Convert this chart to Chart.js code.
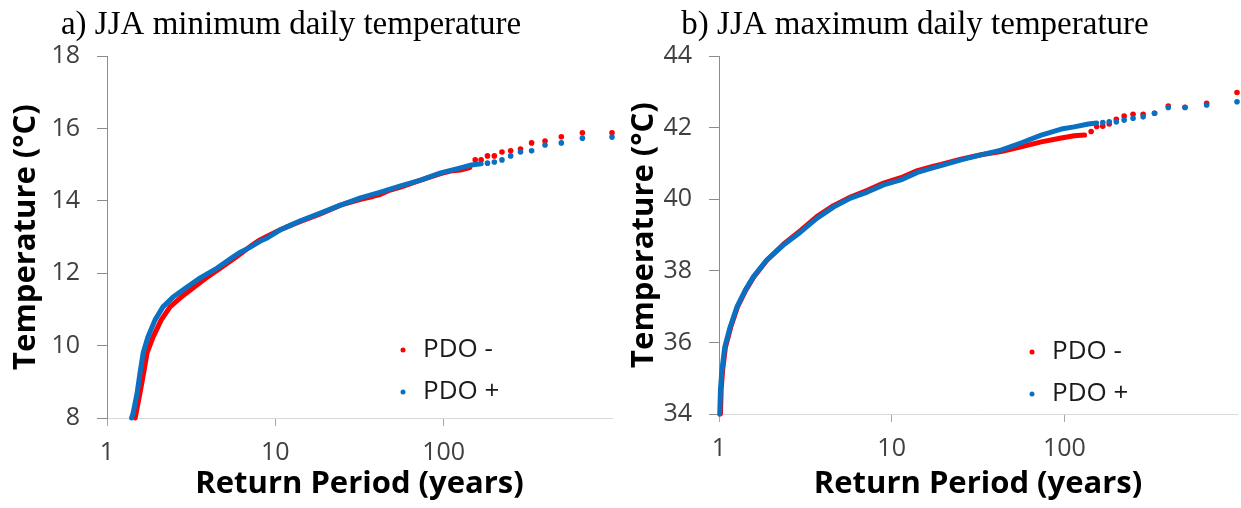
<!DOCTYPE html>
<html>
<head>
<meta charset="utf-8">
<script src="https://cdn.jsdelivr.net/npm/chart.js@4.4.0/dist/chart.umd.min.js"></script>
<style>
  html, body { margin: 0; padding: 0; background: #fff; }
  #wrap { position: relative; width: 1241px; height: 508px; overflow: hidden; }
  canvas { position: absolute; top: 0; }
</style>
</head>
<body>
<div id="wrap">
  <canvas id="chartA" width="620" height="508" style="left:0;width:620px;height:508px"></canvas>
  <canvas id="chartB" width="621" height="508" style="left:620px;width:621px;height:508px"></canvas>
</div>
<script>
// --- labels ---
const titleA = 'a) JJA minimum daily temperature';
const titleB = 'b) JJA maximum daily temperature';
const yTitle = 'Temperature (°C)';
const xTitle = 'Return Period (years)';
const seriesNames = ['PDO -', 'PDO +'];
const xTickValues = [1, 10, 100];
const xTickLabels = ['1', '10', '100'];
const yTicksA = [8, 10, 12, 14, 16, 18];
const yTicksB = [34, 36, 38, 40, 42, 44];

// --- a) minimum temperature, PDO - (red) ---
const minNegDenseRP = [1.47, 1.57, 1.65, 1.73, 1.88, 2.10, 2.37, 2.76, 3.30, 3.88, 4.71, 5.86, 7.1, 8.1, 9.0, 10.7, 12, 14.1, 18.5, 24.4, 32.1, 38, 42.2, 47, 55.5, 73, 96, 110, 126, 143];
const minNegDenseT  = [8.0, 8.69, 9.24, 9.80, 10.24, 10.71, 11.07, 11.34, 11.62, 11.87, 12.14, 12.45, 12.74, 12.92, 13.03, 13.2, 13.3, 13.43, 13.64, 13.88, 14.04, 14.12, 14.18, 14.28, 14.38, 14.57, 14.75, 14.82, 14.85, 14.92];
const minNegTailRP = [154, 167, 182, 200, 222, 250, 286, 333, 400, 500, 667, 1000];
const minNegTailT  = [15.13, 15.13, 15.24, 15.24, 15.35, 15.38, 15.43, 15.60, 15.65, 15.77, 15.88, 15.88];

// --- a) minimum temperature, PDO + (blue) ---
const minPosDenseRP = [1.40, 1.43, 1.51, 1.57, 1.64, 1.75, 1.93, 2.15, 2.47, 2.99, 3.58, 4.51, 5.62, 6.2, 7.1, 8.1, 9.0, 10.7, 12, 14.1, 18.5, 24.4, 32.1, 42.2, 55.5, 73, 96, 126, 143, 154, 167];
const minPosDenseT  = [8.0, 8.14, 8.69, 9.24, 9.80, 10.24, 10.71, 11.07, 11.34, 11.62, 11.87, 12.14, 12.45, 12.58, 12.72, 12.88, 12.98, 13.2, 13.3, 13.45, 13.66, 13.88, 14.08, 14.24, 14.41, 14.57, 14.77, 14.91, 14.98, 15.0, 15.02];
const minPosTailRP = [182, 200, 222, 250, 286, 333, 400, 500, 667, 1000];
const minPosTailT  = [15.04, 15.07, 15.13, 15.24, 15.35, 15.38, 15.54, 15.60, 15.73, 15.76];

// --- b) maximum temperature, PDO - (red) ---
const maxNegDenseRP = [1.02, 1.03, 1.05, 1.09, 1.17, 1.28, 1.43, 1.59, 1.9, 2.36, 2.96, 3.70, 4.60, 5.78, 7.23, 8.97, 11.3, 14.1, 17.5, 19.3, 25.2, 32.9, 43, 56.2, 73.5, 96, 114, 131];
const maxNegDenseT  = [34.0, 34.7, 35.23, 35.87, 36.43, 36.99, 37.46, 37.83, 38.30, 38.74, 39.12, 39.52, 39.82, 40.06, 40.25, 40.45, 40.6, 40.8, 40.92, 40.97, 41.12, 41.24, 41.33, 41.46, 41.60, 41.71, 41.77, 41.79];
const maxNegTailRP = [143, 154, 167, 182, 200, 222, 250, 286, 333, 400, 500, 667, 1000];
const maxNegTailT  = [41.89, 42.03, 42.04, 42.1, 42.23, 42.32, 42.37, 42.37, 42.40, 42.60, 42.57, 42.68, 42.98];

// --- b) maximum temperature, PDO + (blue) ---
const maxPosDenseRP = [1.01, 1.02, 1.04, 1.08, 1.16, 1.27, 1.42, 1.58, 1.89, 2.36, 2.96, 3.70, 4.60, 5.78, 7.23, 8.97, 11.3, 14.1, 17.5, 19.3, 25.2, 32.9, 43, 56, 73.5, 96, 114, 138, 154];
const maxPosDenseT  = [34.0, 34.7, 35.23, 35.87, 36.43, 36.99, 37.46, 37.83, 38.30, 38.72, 39.08, 39.47, 39.78, 40.03, 40.20, 40.40, 40.54, 40.75, 40.88, 40.94, 41.1, 41.24, 41.37, 41.57, 41.79, 41.96, 42.02, 42.10, 42.13];
const maxPosTailRP = [167, 182, 200, 222, 250, 286, 333, 400, 500, 667, 1000];
const maxPosTailT  = [42.14, 42.16, 42.16, 42.21, 42.26, 42.30, 42.40, 42.56, 42.56, 42.63, 42.72];

const RED = '#ff0000';
const BLUE = '#0a70c2';
const TICK_FONT = { family: 'Open Sans', size: 25 };
const AXIS_TITLE_FONT = { family: 'Open Sans', size: 31, weight: 'bold' };

function pairs(xs, ys) {
  return xs.map((x, i) => ({ x: x, y: ys[i] }));
}

// panel title, placed a little left of the canvas centre like the original
const panelTitle = {
  id: 'panelTitle',
  afterDraw(chart, args, opts) {
    const ctx = chart.ctx;
    ctx.save();
    ctx.font = '33px "Liberation Serif"';
    ctx.fillStyle = '#000';
    ctx.textAlign = 'center';
    ctx.textBaseline = 'middle';
    ctx.fillText(opts.text, opts.x, opts.y);
    ctx.restore();
  }
};

// legend drawn inside the plot area, lower right
const insideLegend = {
  id: 'insideLegend',
  afterDatasetsDraw(chart, args, opts) {
    const { ctx, chartArea } = chart;
    ctx.save();
    ctx.font = '26px "Open Sans"';
    ctx.textBaseline = 'middle';
    ctx.textAlign = 'left';
    opts.items.forEach((it, i) => {
      const x = chartArea.right - opts.right;
      const y = chartArea.bottom - opts.bottom + i * opts.gap;
      ctx.fillStyle = it.color;
      ctx.beginPath();
      ctx.arc(x, y, 2.5, 0, Math.PI * 2);
      ctx.fill();
      ctx.fillStyle = '#1a1a1a';
      ctx.fillText(it.label, x + opts.textGap, y);
    });
    ctx.restore();
  }
};

function makeChart(id, cfg) {
  const ctx = document.getElementById(id).getContext('2d');
  return new Chart(ctx, {
    type: 'scatter',
    data: {
      datasets: [
        { label: seriesNames[0], data: pairs(cfg.negDense[0], cfg.negDense[1]), showLine: true,
          borderColor: RED, borderWidth: 5, borderCapStyle: 'round', borderJoinStyle: 'round', pointRadius: 0, order: 1, clip: 4 },
        { label: seriesNames[0], data: pairs(cfg.negTail[0], cfg.negTail[1]), showLine: false,
          backgroundColor: RED, borderWidth: 0, pointRadius: 2.8, order: 1, clip: 4 },
        { label: seriesNames[1], data: pairs(cfg.posDense[0], cfg.posDense[1]), showLine: true,
          borderColor: BLUE, borderWidth: 5, borderCapStyle: 'round', borderJoinStyle: 'round', pointRadius: 0, order: 0, clip: 4 },
        { label: seriesNames[1], data: pairs(cfg.posTail[0], cfg.posTail[1]), showLine: false,
          backgroundColor: BLUE, borderWidth: 0, pointRadius: 2.8, order: 0, clip: 4 }
      ]
    },
    options: {
      responsive: false,
      animation: false,
      layout: { padding: { left: 0, right: cfg.padRight, top: 56, bottom: 0 } },
      plugins: {
        legend: { display: false },
        tooltip: { enabled: false },
        title: { display: false },
        panelTitle: { text: cfg.title, x: cfg.titleX, y: 25 },
        insideLegend: {
          items: [{ label: seriesNames[0], color: RED }, { label: seriesNames[1], color: BLUE }],
          right: cfg.legendRight, bottom: cfg.legendBottom, gap: 42, textGap: 20
        }
      },
      scales: {
        x: {
          type: 'logarithmic',
          min: 1,
          max: 1000,
          afterBuildTicks: s => { s.ticks = xTickValues.map(v => ({ value: v })); },
          afterFit: s => { s.height = cfg.xAxisHeight; },
          ticks: {
            autoSkip: false, maxRotation: 0, padding: 12, color: '#404040', font: TICK_FONT,
            callback: (v, i) => xTickLabels[i]
          },
          grid: { drawOnChartArea: false, drawTicks: true, tickLength: 8, color: '#a6a6a6' },
          border: { color: '#d9d9d9', width: 1 },
          title: { display: true, text: xTitle, color: '#000', font: AXIS_TITLE_FONT, padding: { top: 0, bottom: 5 } }
        },
        y: {
          min: cfg.yTicks[0],
          max: cfg.yTicks[cfg.yTicks.length - 1],
          afterBuildTicks: s => { s.ticks = cfg.yTicks.map(v => ({ value: v })); },
          afterFit: s => { s.width = cfg.yAxisWidth; },
          ticks: { padding: 17, color: '#404040', font: TICK_FONT, callback: v => String(v) },
          grid: { drawOnChartArea: false, drawTicks: true, tickLength: 10, color: '#8c8c8c' },
          border: { color: '#8c8c8c', width: 1 },
          title: { display: true, text: yTitle, color: '#000', font: AXIS_TITLE_FONT, padding: { top: cfg.yTitlePad, bottom: 0 } }
        }
      }
    },
    plugins: [panelTitle, insideLegend]
  });
}

makeChart('chartA', {
  title: titleA, titleX: 291,
  yTicks: yTicksA,
  negDense: [minNegDenseRP, minNegDenseT], negTail: [minNegTailRP, minNegTailT],
  posDense: [minPosDenseRP, minPosDenseT], posTail: [minPosTailRP, minPosTailT],
  yAxisWidth: 107, xAxisHeight: 90, padRight: 8, yTitlePad: 8,
  legendRight: 209, legendBottom: 68
});

makeChart('chartB', {
  title: titleB, titleX: 295,
  yTicks: yTicksB,
  negDense: [maxNegDenseRP, maxNegDenseT], negTail: [maxNegTailRP, maxNegTailT],
  posDense: [maxPosDenseRP, maxPosDenseT], posTail: [maxPosTailRP, maxPosTailT],
  yAxisWidth: 99, xAxisHeight: 94, padRight: 4, yTitlePad: 6,
  legendRight: 205, legendBottom: 62
});
</script>
</body>
</html>
